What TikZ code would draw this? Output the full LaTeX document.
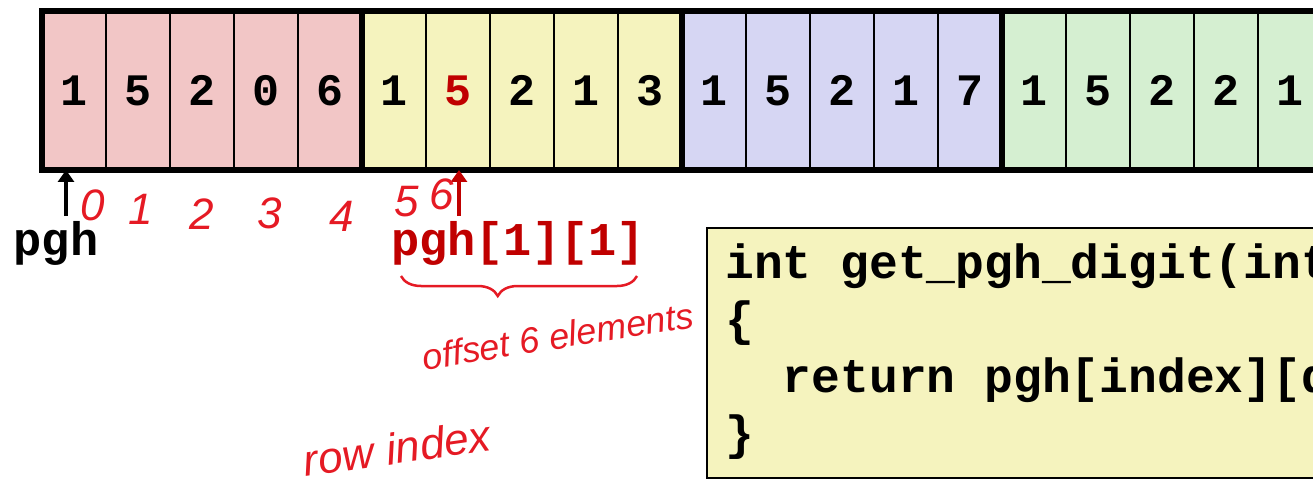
\documentclass[tikz,border=0pt]{standalone}
\usepackage{fontspec}
\setmainfont{Liberation Sans}
\newfontfamily\monofont{Liberation Mono}
\usepackage{tikz}
\usetikzlibrary{positioning,arrows.meta,decorations.pathreplacing}

\definecolor{rowpink}{RGB}{242,198,198}
\definecolor{rowyellow}{RGB}{245,243,190}
\definecolor{rowblue}{RGB}{214,214,243}
\definecolor{rowgreen}{RGB}{213,239,209}
\definecolor{codebg}{RGB}{245,243,190}
\definecolor{inkred}{RGB}{229,26,36}
\definecolor{darkred}{RGB}{192,0,0}

\begin{document}
\begin{tikzpicture}[x=1pt,y=-1pt,>=Stealth,
		cell/.style={draw,line width=2pt,minimum width=64pt,minimum height=159pt,
			inner sep=0pt,outer sep=0pt,font=\monofont\bfseries\fontsize{45}{50}\selectfont},
		rowbox/.style={draw,line width=6pt},
		namelbl/.style={inner sep=0pt,font=\monofont\bfseries\fontsize{47}{50}\selectfont},
		codeline/.style={inner sep=0pt,anchor=base west,font=\monofont\bfseries\fontsize{48}{54}\selectfont},
		ink/.style={inner sep=0pt,text=inkred,font=\itshape\fontsize{36}{40}\selectfont},
		ptr/.style={-{Triangle[length=12pt,width=16pt]},line width=4pt},
		]
		\useasboundingbox (0,0) rectangle (1313,489);
		
		% Array cells
		\foreach \d/\col/\tc [count=\i from 0] in {
			1/rowpink/black,5/rowpink/black,2/rowpink/black,0/rowpink/black,6/rowpink/black,
			1/rowyellow/black,5/rowyellow/darkred,2/rowyellow/black,1/rowyellow/black,3/rowyellow/black,
			1/rowblue/black,5/rowblue/black,2/rowblue/black,1/rowblue/black,7/rowblue/black,
			1/rowgreen/black,5/rowgreen/black,2/rowgreen/black,2/rowgreen/black,1/rowgreen/black}
		{
			\node[cell,fill=\col,text=\tc] (c\i) at ({74+64*\i},90.5) {\d};
		}
		
		% Row outlines
		\draw[rowbox] (c0.north west) rectangle (c4.south east);
		\draw[rowbox] (c5.north west) rectangle (c9.south east);
		\draw[rowbox] (c10.north west) rectangle (c14.south east);
		\draw[rowbox] (c15.north west) rectangle (c19.south east);
		
		% Pointers
		\node[namelbl] (pgh) at (56,243) {pgh};
		\coordinate (pghtail) at (66,216);
		\draw[ptr] (pghtail) -- (pghtail |- c0.south);
		
		\node[namelbl,text=darkred] (elem) at (518,243) {pgh[1][1]};
		\coordinate (elemtail) at (459,216);
		\draw[ptr,darkred] (elemtail) -- (elemtail |- c6.south);
		
		% Hand notes
		\foreach \n/\px/\py in {0/93/205,1/141/209,2/202/214,3/270/213,4/342/216,5/407/202,6/442/194}
		{
			\node[ink,font=\itshape\fontsize{44}{48}\selectfont] (n\n) at (\px,\py) {\n};
		}
		\coordinate (brl) at (401,276);
		\coordinate (brr) at (637,276);
		\draw[inkred,line width=2.5pt,decorate,
		decoration={brace,mirror,amplitude=20pt,aspect=0.41}] (brl) -- (brr);
		\node[ink,rotate=9] (offs) at (558,336) {offset 6 elements};
		\node[ink,rotate=8,font=\itshape\fontsize{44}{48}\selectfont] (rowidx) at (397,448) {row index};
		
		% Code
		\node[draw,line width=1.5pt,fill=codebg,minimum width=700pt,minimum height=250pt,
		inner sep=0pt,anchor=north west] (codebox) at (706,227) {};
		\node[codeline] (l1) at (725,278) {int get\_pgh\_digit(int};
		\node[codeline] (l2) at (725,335) {\{};
		\node[codeline] (l3) at (725,392) {\ \ return pgh[index][d};
		\node[codeline] (l4) at (725,449) {\}};
		
	\end{tikzpicture}
\end{document}
